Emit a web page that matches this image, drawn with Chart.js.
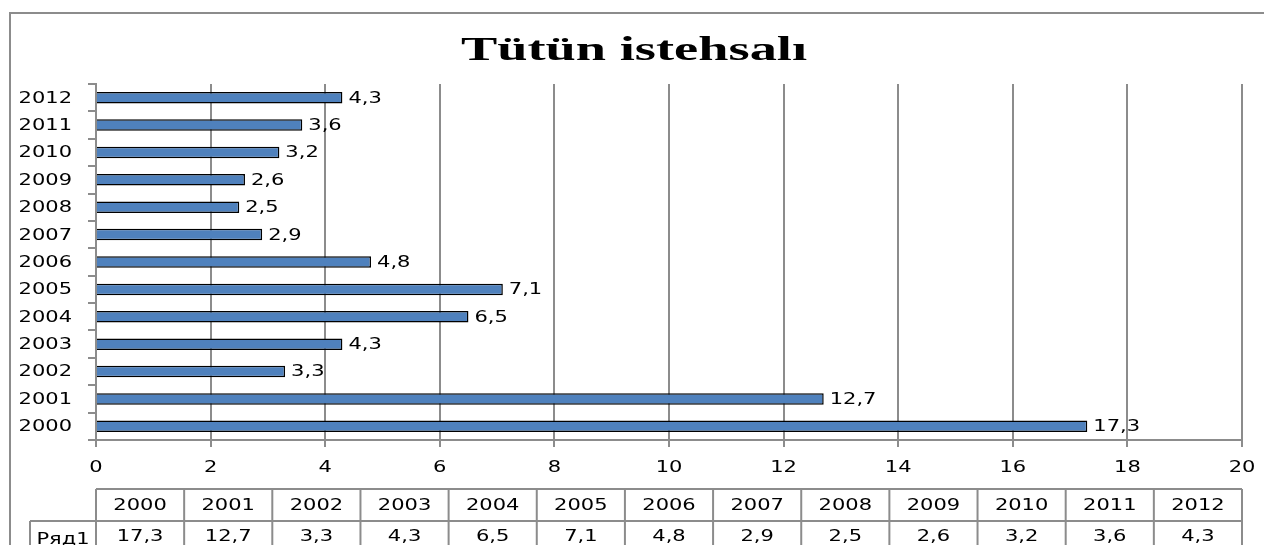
<!DOCTYPE html>
<html>
<head>
<meta charset="utf-8">
<script src="https://cdn.jsdelivr.net/npm/chart.js@4/dist/chart.umd.min.js"></script>
<style>
  html, body { margin: 0; padding: 0; background: #fff; }
  #wrap { position: relative; width: 1264px; height: 545px; overflow: hidden; }
  #frame { position: absolute; left: 9px; top: 12px; width: 1300px; height: 600px; border: 2px solid #8c8c8c; box-sizing: border-box; }
  canvas { position: absolute; left: 0; top: 0; }
</style>
</head>
<body>
<div id="wrap">
  <div id="frame"></div>
  <canvas id="c" width="1264" height="545"></canvas>
</div>
<script>
        // data
        let years = ['2000', '2001', '2002', '2003', '2004', '2005', '2006', '2007', '2008', '2009', '2010', '2011', '2012'];
        let production = [17.3, 12.7, 3.3, 4.3, 6.5, 7.1, 4.8, 2.9, 2.5, 2.6, 3.2, 3.6, 4.3];
        let seriesName = 'Ряд1';
        let chartTitle = 'Tütün istehsalı';
        let xTicks = [0, 2, 4, 6, 8, 10, 12, 14, 16, 18, 20];

        const font = '15px "DejaVu Sans"';
        const gridColor = '#8c8c8c';
        const stretch = 1.4; // the original text is drawn wide

        function fmt(v) {
            return v.toString().replace('.', ',');
        }

        function wideText(ctx, text, x, y, align, sx) {
            ctx.save();
            ctx.translate(x, y);
            ctx.scale(sx, 1);
            ctx.textAlign = align;
            ctx.fillText(text, 0, 0);
            ctx.restore();
        }

        // title, axis labels and value labels
        const texts = {
            id: 'texts',
            afterDraw(chart) {
                let ctx = chart.ctx;
                let xs = chart.scales.x;
                let ys = chart.scales.y;
                ctx.save();
                ctx.fillStyle = '#000';

                ctx.font = 'bold 34px "Liberation Serif"';
                ctx.textBaseline = 'alphabetic';
                wideText(ctx, chartTitle, 634, 60, 'center', 1.6);

                ctx.font = font;
                ctx.textBaseline = 'middle';
                years.forEach((y, i) => {
                    wideText(ctx, y, ys.right - 24, ys.getPixelForValue(i) + 1, 'right', stretch);
                });
                xTicks.forEach(v => {
                    wideText(ctx, String(v), xs.getPixelForValue(v), xs.top + 28, 'center', stretch);
                });
                let meta = chart.getDatasetMeta(0);
                meta.data.forEach((bar, i) => {
                    wideText(ctx, fmt(production[i]), bar.x + 6, bar.y + 1, 'left', stretch);
                });
                ctx.restore();
            }
        };

        // data table under the axis
        const dataTable = {
            id: 'dataTable',
            afterDraw(chart) {
                let ctx = chart.ctx;
                let area = chart.chartArea;
                let colW = (area.right - area.left) / years.length;
                let top = 489, rowH = 32, labelLeft = 30;
                ctx.save();
                ctx.strokeStyle = gridColor;
                ctx.lineWidth = 2;
                ctx.font = font;
                ctx.fillStyle = '#000';
                ctx.textBaseline = 'middle';
                ctx.beginPath();
                ctx.moveTo(area.left, top); ctx.lineTo(area.right, top);
                ctx.moveTo(labelLeft, top + rowH); ctx.lineTo(area.right, top + rowH);
                for (let i = 0; i <= years.length; i++) {
                    let x = area.left + i * colW;
                    ctx.moveTo(x, top); ctx.lineTo(x, top + rowH * 2);
                }
                ctx.moveTo(labelLeft, top + rowH); ctx.lineTo(labelLeft, top + rowH * 2);
                ctx.stroke();
                years.forEach((y, i) => {
                    let cx = area.left + (i + 0.5) * colW;
                    wideText(ctx, y, cx, top + rowH / 2 + 1, 'center', stretch);
                    wideText(ctx, fmt(production[i]), cx, top + rowH + rowH / 2, 'center', stretch);
                });
                wideText(ctx, seriesName, (labelLeft + area.left) / 2, top + rowH + rowH / 2 + 3, 'center', stretch);
                ctx.restore();
            }
        };

        let chart = new Chart(document.getElementById('c'), {
            type: 'bar',
            data: {
                labels: years,
                datasets: [{
                    label: seriesName,
                    data: production,
                    backgroundColor: '#4f81bd',
                    borderColor: '#000',
                    borderWidth: 1.5,
                    barPercentage: 0.42,
                    categoryPercentage: 1
                }]
            },
            options: {
                indexAxis: 'y',
                responsive: false,
                animation: false,
                layout: { padding: { left: 0, right: 22, top: 84, bottom: 0 } },
                plugins: {
                    legend: { display: false },
                    tooltip: { enabled: false }
                },
                scales: {
                    x: {
                        min: 0,
                        max: 20,
                        afterBuildTicks(scale) {
                            scale.ticks = xTicks.map(v => ({ value: v }));
                        },
                        afterFit(scale) {
                            scale.height = 105;
                        },
                        grid: { color: gridColor, lineWidth: 2, tickLength: 7 },
                        border: { color: gridColor, width: 2 },
                        ticks: { display: false }
                    },
                    y: {
                        reverse: true,
                        afterFit(scale) {
                            scale.width = 96;
                        },
                        grid: { offset: true, drawOnChartArea: false, color: gridColor, lineWidth: 2, tickLength: 8 },
                        border: { color: gridColor, width: 2 },
                        ticks: { display: false }
                    }
                }
            },
            plugins: [texts, dataTable]
        });
</script>
</body>
</html>
